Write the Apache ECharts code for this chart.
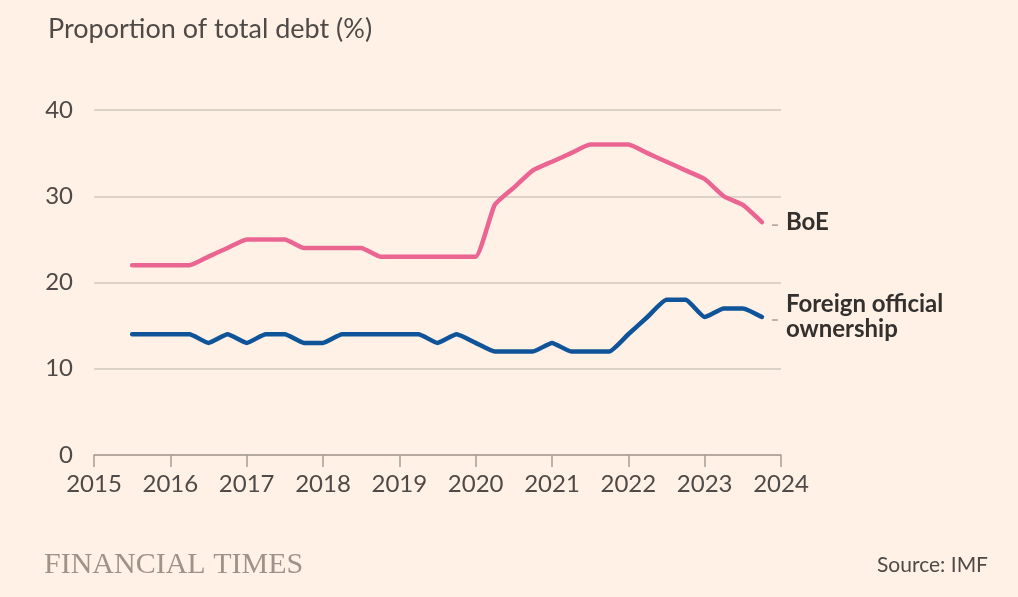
<!DOCTYPE html>
<html>
<head>
<meta charset="utf-8">
<script src="https://cdn.jsdelivr.net/npm/echarts@6/dist/echarts.min.js"></script>
<style>
html,body{margin:0;padding:0;background:#fff1e5;}
#c{width:1018px;height:597px;}
</style>
</head>
<body>
<div id="c"></div>
<script>
// Quarterly dates (decimal years)
const dates = [2015.5,2015.75,2016,2016.25,2016.5,2016.75,2017,2017.25,2017.5,2017.75,
  2018,2018.25,2018.5,2018.75,2019,2019.25,2019.5,2019.75,2020,2020.25,2020.5,2020.75,
  2021,2021.25,2021.5,2021.75,2022,2022.25,2022.5,2022.75,2023,2023.25,2023.5,2023.75];
const boe = [22,22,22,22,23,24,25,25,25,24,24,24,24,23,23,23,23,23,23,29,31,33,34,35,36,36,36,35,34,33,32,30,29,27];
const foreign = [14,14,14,14,13,14,13,14,14,13,13,14,14,14,14,14,13,14,13,12,12,12,13,12,12,12,14,16,18,18,16,17,17,16];
const seriesNames = ['BoE','Foreign official\nownership'];
const yTicks = [0,10,20,30,40];
const xTicks = [2015,2016,2017,2018,2019,2020,2021,2022,2023,2024];

const FONT = 'Lato';
const chart = echarts.init(document.getElementById('c'), null, {renderer:'canvas'});
const pair = (xs, ys) => xs.map((x,i)=>[x, ys[i]]);
const endLabel = {
  show:true, distance:24, formatter: p => p.seriesName,
  color:'#33302e', fontFamily:FONT, fontWeight:'bold', fontSize:24, lineHeight:25, align:'left'
};
chart.setOption({
  backgroundColor:'#fff1e5',
  animation:false,
  grid:{left:94, right:237, top:110, bottom:142},
  title:{text:'Proportion of total debt (%)', left:43, top:11,
    textStyle:{fontFamily:FONT, fontSize:27, fontWeight:'normal', color:'#4f4a47'}},
  xAxis:{type:'value', min:xTicks[0], max:xTicks[xTicks.length-1], interval:1,
    axisLine:{lineStyle:{color:'#a89d94', width:1.5}},
    axisTick:{show:true, length:12, lineStyle:{color:'#a89d94', width:1.5}},
    axisLabel:{formatter: v => String(v), margin:17, fontFamily:FONT, fontSize:24, color:'#4f4a47'},
    splitLine:{show:false}},
  yAxis:{type:'value', min:yTicks[0], max:yTicks[yTicks.length-1], interval:10,
    axisLine:{show:false}, axisTick:{show:false},
    axisLabel:{margin:21, fontFamily:FONT, fontSize:24, color:'#4f4a47'},
    splitLine:{lineStyle:{color:'#d2c7bd', width:1.5}}},
  series:[
    {name:seriesNames[0], type:'line', data:pair(dates,boe), showSymbol:false, smooth:0.15,
      lineStyle:{color:'#eb6592', width:4.5, join:'round', cap:'round'}, itemStyle:{color:'#eb6592'},
      endLabel: endLabel},
    {name:seriesNames[1], type:'line', data:pair(dates,foreign), showSymbol:false, smooth:0.15,
      lineStyle:{color:'#0f5499', width:4.5, join:'round', cap:'round'}, itemStyle:{color:'#0f5499'},
      endLabel: endLabel}
  ]
});

function decorate(){
  const g = [];
  [boe, foreign].forEach((arr, si)=>{
    const p = chart.convertToPixel({gridIndex:0}, [dates[dates.length-1], arr[arr.length-1]]);
    g.push({type:'line', shape:{x1:p[0]+10, y1:p[1]+3, x2:p[0]+16, y2:p[1]+3},
      style:{stroke:'#a89d94', lineWidth:1.5}});
  });
  g.push({type:'text', left:44, top:550,
    style:{text:'FINANCIAL TIMES', font:'30px "Liberation Serif"', fill:'#9e938b'}});
  g.push({type:'text', right:30, top:555,
    style:{text:'Source: IMF', font:'21px Lato', fill:'#4f4a47'}});
  chart.setOption({graphic:g});
}
decorate();
</script>
</body>
</html>
